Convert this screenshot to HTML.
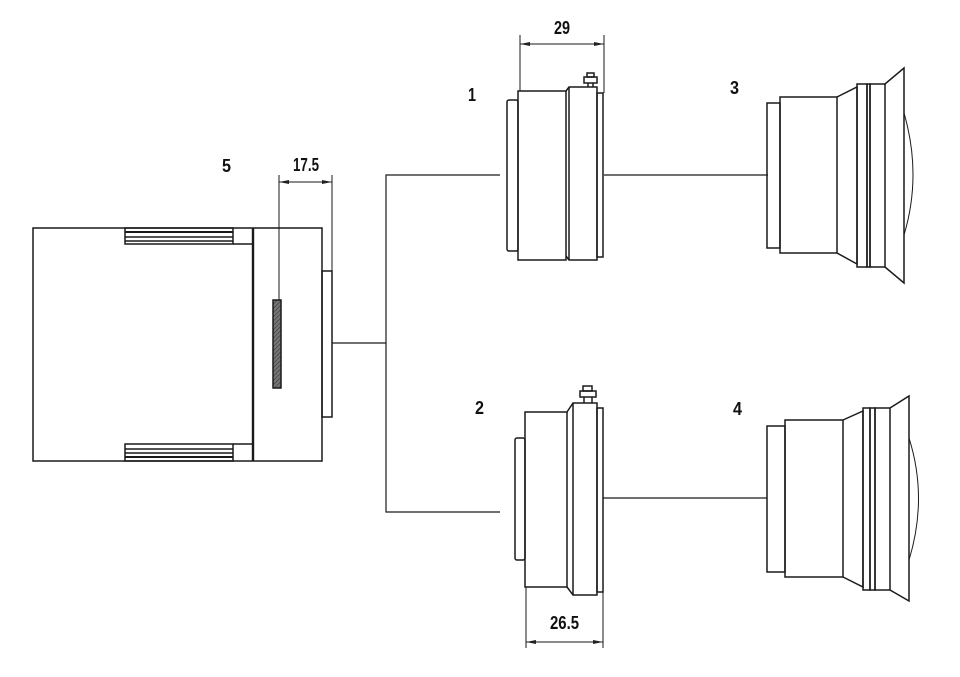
<!DOCTYPE html>
<html><head><style>body{margin:0;background:#fff}svg{display:block}text{font-family:"Liberation Sans",sans-serif;font-weight:bold;font-size:18px;fill:#111}</style></head><body>
<svg width="960" height="677" viewBox="0 0 960 677" xmlns="http://www.w3.org/2000/svg">
<defs>
<pattern id="h" width="3" height="3" patternUnits="userSpaceOnUse" patternTransform="rotate(45)"><rect width="3" height="3" fill="#777"/><line x1="0" y1="0" x2="0" y2="3" stroke="#333" stroke-width="1.2"/></pattern>
<marker id="a" viewBox="0 0 10 6" refX="10" refY="3" markerWidth="10" markerHeight="6" orient="auto-start-reverse"><path d="M0,1 L10,3 L0,5z" fill="#222"/></marker>
</defs>
<g fill="none" stroke="#1a1a1a" stroke-width="1.5">
<rect x="33" y="228" width="289" height="233"/>
<line x1="253" y1="228" x2="253" y2="461" stroke-width="2.4"/>
<rect x="125" y="228" width="108" height="16"/>
<line x1="233" y1="244" x2="253" y2="244"/>
<line x1="125" y1="232" x2="233" y2="232" stroke-width="2"/>
<line x1="125" y1="237" x2="233" y2="237"/>
<line x1="125" y1="241" x2="233" y2="241"/>
<rect x="125" y="444" width="108" height="17"/>
<line x1="233" y1="444" x2="253" y2="444"/>
<line x1="125" y1="449" x2="233" y2="449"/>
<line x1="125" y1="453" x2="233" y2="453"/>
<line x1="125" y1="457" x2="233" y2="457" stroke-width="2"/>
<rect x="273" y="300" width="8" height="88" fill="url(#h)"/>
<rect x="322" y="271" width="10" height="146"/>
<line x1="279" y1="175" x2="279" y2="300" stroke-width="1"/>
<line x1="332" y1="175" x2="332" y2="271" stroke-width="1"/>
<line x1="279" y1="182" x2="332" y2="182" stroke-width="1" marker-start="url(#a)" marker-end="url(#a)"/>
<polyline points="332,343 386,343" stroke-width="1.2"/>
<polyline points="500,175 386,175 386,512 500,512" stroke-width="1.2"/>
<line x1="604" y1="175" x2="768" y2="175" stroke-width="1.2"/>
<line x1="603" y1="498" x2="767" y2="498" stroke-width="1.2"/>
<rect x="507" y="100" width="11" height="151" rx="2"/>
<rect x="518" y="91" width="48" height="169"/>
<path d="M566,91 L569,87 L597,87 L597,260 L569,260 L566,256"/>
<line x1="569" y1="87" x2="569" y2="260"/>
<rect x="597" y="93" width="6" height="164"/>
<rect x="584" y="77" width="13" height="6"/><line x1="588" y1="83" x2="588" y2="87"/><line x1="593" y1="83" x2="593" y2="87"/><rect x="587" y="73" width="7" height="4"/>
<line x1="520" y1="35" x2="520" y2="91" stroke-width="1"/>
<line x1="604" y1="35" x2="604" y2="93" stroke-width="1"/>
<line x1="520" y1="44" x2="604" y2="44" stroke-width="1" marker-start="url(#a)" marker-end="url(#a)"/>
<rect x="515" y="438" width="10" height="122" rx="2"/>
<rect x="525" y="412" width="42" height="175"/>
<path d="M567,412 L573,403 L597,403 L597,595 L573,595 L567,587"/>
<line x1="573" y1="403" x2="573" y2="595"/>
<rect x="597" y="408" width="6" height="184"/>
<rect x="580" y="391" width="16" height="6"/><line x1="584" y1="397" x2="584" y2="403"/><line x1="592" y1="397" x2="592" y2="403"/><rect x="583" y="386" width="9" height="5"/>
<line x1="526" y1="587" x2="526" y2="648" stroke-width="1"/>
<line x1="603" y1="592" x2="603" y2="648" stroke-width="1"/>
<line x1="526" y1="642" x2="603" y2="642" stroke-width="1" marker-start="url(#a)" marker-end="url(#a)"/>
<rect x="767" y="103" width="13" height="145"/>
<rect x="780" y="97" width="57" height="156"/>
<path d="M837,97 L857,87 L857,264 L837,253"/>
<rect x="857" y="84" width="10" height="183"/>
<rect x="867" y="84" width="3" height="183"/>
<rect x="870" y="84" width="15" height="183"/>
<path d="M885,84 L904,68 L904,283 L885,267"/>
<path d="M904,113 Q922,175 904,235" stroke-width="1"/>
<rect x="767" y="426" width="18" height="146"/>
<rect x="785" y="420" width="58" height="157"/>
<path d="M843,420 L863,411 L863,587 L843,577"/>
<rect x="863" y="408" width="7" height="182"/>
<rect x="870" y="408" width="5" height="182"/>
<rect x="875" y="408" width="15" height="182"/>
<path d="M890,408 L909,396 L909,601 L890,590"/>
<path d="M909,438 Q928,498 909,560" stroke-width="1"/>
</g>
<text x="222" y="172" textLength="9" lengthAdjust="spacingAndGlyphs">5</text>
<text x="293" y="171" textLength="26" lengthAdjust="spacingAndGlyphs">17.5</text>
<text x="554" y="34" textLength="16" lengthAdjust="spacingAndGlyphs">29</text>
<text x="468" y="101" textLength="8" lengthAdjust="spacingAndGlyphs">1</text>
<text x="475" y="414" textLength="9" lengthAdjust="spacingAndGlyphs">2</text>
<text x="730" y="94" textLength="9" lengthAdjust="spacingAndGlyphs">3</text>
<text x="733" y="415" textLength="9" lengthAdjust="spacingAndGlyphs">4</text>
<text x="550" y="629" textLength="29" lengthAdjust="spacingAndGlyphs">26.5</text>
</svg>
</body></html>
